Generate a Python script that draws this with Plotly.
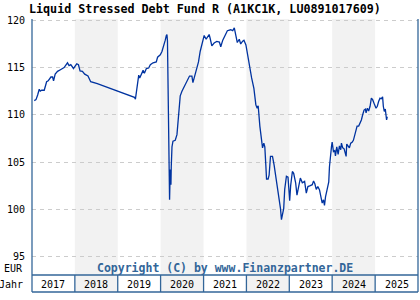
import datetime as dt
import plotly.graph_objects as go

title_text = "Liquid Stressed Debt Fund R (A1KC1K, LU0891017609)"
years = [2017, 2018, 2019, 2020, 2021, 2022, 2023, 2024, 2025]
y_ticks = [95, 100, 105, 110, 115, 120]

# decimal-year time stamps
t_years = [
    2017.053, 2017.093, 2017.132, 2017.169, 2017.193, 2017.225, 2017.285, 2017.341, 2017.378, 2017.441,
    2017.480, 2017.503, 2017.541, 2017.596, 2017.673, 2017.749, 2017.828, 2017.865, 2017.905, 2017.968,
    2017.998, 2018.044, 2018.084, 2018.121, 2018.176, 2018.230, 2018.306, 2018.329, 2018.369, 2018.524,
    2018.756, 2018.988, 2019.258, 2019.390, 2019.413, 2019.436, 2019.466, 2019.490, 2019.513, 2019.545,
    2019.592, 2019.622, 2019.668, 2019.722, 2019.761, 2019.824, 2019.900, 2019.930, 2019.993, 2020.032,
    2020.070, 2020.109, 2020.132, 2020.148, 2020.160, 2020.172, 2020.190, 2020.209, 2020.225, 2020.241,
    2020.248, 2020.265, 2020.288, 2020.341, 2020.381, 2020.418, 2020.457, 2020.497, 2020.550, 2020.613,
    2020.673, 2020.729, 2020.752, 2020.782, 2020.828, 2020.882, 2020.921, 2020.984, 2021.014, 2021.060,
    2021.091, 2021.130, 2021.153, 2021.193, 2021.246, 2021.309, 2021.369, 2021.401, 2021.448, 2021.501,
    2021.555, 2021.633, 2021.680, 2021.717, 2021.756, 2021.787, 2021.833, 2021.866, 2021.912, 2021.942,
    2021.988, 2022.019, 2022.065, 2022.121, 2022.174, 2022.220, 2022.251, 2022.274, 2022.313, 2022.353,
    2022.376, 2022.406, 2022.429, 2022.452, 2022.469, 2022.506, 2022.529, 2022.561, 2022.608, 2022.645,
    2022.684, 2022.738, 2022.761, 2022.794, 2022.817, 2022.840, 2022.870, 2022.893, 2022.933, 2022.970,
    2022.993, 2023.009, 2023.032, 2023.072, 2023.102, 2023.148, 2023.179, 2023.225, 2023.258, 2023.304,
    2023.357, 2023.397, 2023.434, 2023.490, 2023.536, 2023.566, 2023.596, 2023.629, 2023.666, 2023.705,
    2023.745, 2023.768, 2023.798, 2023.821, 2023.845, 2023.875, 2023.921, 2023.937, 2023.954, 2023.984,
    2024.000, 2024.030, 2024.060, 2024.077, 2024.107, 2024.139, 2024.169, 2024.200, 2024.216, 2024.246,
    2024.278, 2024.309, 2024.325, 2024.339, 2024.371, 2024.401, 2024.432, 2024.464, 2024.494, 2024.524,
    2024.557, 2024.580, 2024.617, 2024.650, 2024.680, 2024.710, 2024.742, 2024.773, 2024.789, 2024.819,
    2024.849, 2024.882, 2024.912, 2024.942, 2024.958, 2024.988, 2025.021, 2025.051, 2025.081, 2025.114,
    2025.144, 2025.174, 2025.191, 2025.213, 2025.237, 2025.253, 2025.267, 2025.283,
]
prices = [
    111.5, 111.6, 112.1, 112.7, 112.5, 112.6, 112.6, 113.5, 113.6, 114.0,
    114.0, 113.6, 114.3, 114.6, 114.8, 115.0, 115.5, 115.2, 115.3, 114.9,
    115.1, 115.4, 115.3, 114.65, 114.6, 114.3, 114.1, 113.8, 113.5, 113.3,
    112.9, 112.5, 112.1, 111.85, 111.65, 112.6, 113.9, 114.2, 113.9, 114.3,
    114.7, 114.4, 114.9, 114.95, 115.3, 115.5, 115.6, 116.1, 116.35, 116.7,
    117.2, 117.9, 118.36, 118.5, 117.8, 113.5, 106.5, 101.0, 104.2, 102.6,
    104.5, 106.6, 107.2, 107.3, 107.9, 109.6, 112.0, 112.5, 113.0, 113.7,
    114.1, 114.1, 113.4, 113.9, 114.6, 115.6, 116.7, 117.9, 118.4, 118.0,
    118.3, 118.5, 118.1, 117.3, 117.6, 117.76, 117.7, 117.2, 117.9, 118.5,
    118.9, 119.0, 118.9, 119.2, 118.1, 117.65, 118.0, 117.5, 117.8, 117.9,
    117.4, 116.5, 115.5, 113.9, 112.8, 111.05, 110.7, 110.95, 108.8, 107.0,
    106.5, 107.0, 106.6, 104.7, 103.2, 103.2, 103.6, 105.6, 105.6, 104.7,
    103.5, 102.1, 101.2, 100.1, 98.9, 99.65, 100.1, 102.1, 103.5, 103.4,
    101.35, 100.9, 102.5, 104.0, 103.8, 102.8, 101.5, 102.4, 103.3, 102.8,
    102.95, 101.7, 102.4, 102.5, 102.6, 103.0, 102.7, 102.1, 102.4, 102.05,
    101.0, 100.65, 101.0, 100.4, 101.3, 101.9, 102.9, 104.5, 105.65, 106.6,
    107.1, 106.1, 106.2, 105.65, 106.6, 105.8, 106.7, 106.3, 107.0, 106.5,
    106.4, 106.0, 105.6, 106.9, 106.7, 106.5, 107.0, 107.1, 107.3, 107.9,
    108.4, 108.8, 108.8, 109.1, 109.45, 110.0, 110.5, 110.6, 110.2, 110.7,
    110.4, 110.9, 111.76, 111.6, 111.3, 111.05, 110.7, 110.9, 111.4, 111.76,
    111.7, 111.9, 110.9, 110.35, 110.6, 110.2, 109.45, 109.8,
]


def to_date(t):
    y = int(t)
    a = dt.datetime(y, 1, 1)
    b = dt.datetime(y + 1, 1, 1)
    return a + (b - a) * (t - y)


dates = [to_date(t) for t in t_years]

MONO = "DejaVu Sans Mono"
FRAME = "#336699"
row_bottom = -17 / 256

fig = go.Figure()
fig.add_trace(go.Scatter(
    x=dates, y=prices, mode="lines",
    line=dict(color="#0033a0", width=1.3),
    hoverinfo="skip", showlegend=False,
))

shapes = []
for yr in years:
    if yr % 2 == 0:
        shapes.append(dict(type="rect", xref="x", yref="paper",
                           x0=f"{yr}-01-01", x1=f"{yr + 1}-01-01",
                           y0=row_bottom, y1=1, fillcolor="#f2f2f2",
                           line=dict(width=0), layer="below"))
# year row frame
shapes.append(dict(type="line", xref="paper", yref="paper", x0=0, x1=1, y0=0, y1=0,
                   line=dict(color=FRAME, width=1.3)))
shapes.append(dict(type="line", xref="paper", yref="paper", x0=0, x1=1, y0=row_bottom, y1=row_bottom,
                   line=dict(color=FRAME, width=1.3)))
for yr in years[1:]:
    shapes.append(dict(type="line", xref="x", yref="paper",
                       x0=f"{yr}-01-01", x1=f"{yr}-01-01", y0=row_bottom, y1=0,
                       line=dict(color=FRAME, width=1.3)))
shapes.append(dict(type="line", xref="paper", yref="paper", x0=0, x1=0, y0=row_bottom, y1=1,
                   line=dict(color=FRAME, width=1.3)))
shapes.append(dict(type="line", xref="paper", yref="paper", x0=1, x1=1, y0=row_bottom, y1=1,
                   line=dict(color=FRAME, width=1.3)))

annotations = []
for yr in years:
    annotations.append(dict(x=to_date(yr + 0.5), xref="x", y=-9 / 256, yref="paper",
                            text=str(yr), showarrow=False, xanchor="center", yanchor="middle",
                            font=dict(family=MONO, size=10, color="#000000")))
annotations.append(dict(x=0, xref="paper", y=-9 / 256, yref="paper", text="Jahr",
                        showarrow=False, xanchor="right", yanchor="middle", xshift=-7,
                        font=dict(family=MONO, size=10, color="#000000")))
annotations.append(dict(x=0, xref="paper", y=7 / 256, yref="paper", text="EUR",
                        showarrow=False, xanchor="right", yanchor="middle", xshift=-7,
                        font=dict(family=MONO, size=10, color="#000000")))
annotations.append(dict(x=0.5, xref="paper", y=7 / 256, yref="paper",
                        text="<b>Copyright (C) by www.Finanzpartner.DE</b>",
                        showarrow=False, xanchor="center", yanchor="middle",
                        font=dict(family=MONO, size=11.5, color=FRAME)))
annotations.append(dict(x=(205 - 32) / 386, xref="paper", y=1, yref="paper", yshift=10,
                        text="<b>" + title_text + "</b>",
                        showarrow=False, xanchor="center", yanchor="middle",
                        font=dict(family=MONO, size=11.7, color="#000000")))

fig.update_layout(
    width=420, height=300,
    margin=dict(l=32, r=2, t=19, b=25),
    paper_bgcolor="white", plot_bgcolor="white",
    shapes=shapes, annotations=annotations,
    xaxis=dict(range=["2017-01-01", "2026-01-01"], showgrid=False, showticklabels=False,
               zeroline=False, showline=False, ticks=""),
    yaxis=dict(range=[93.04, 120.14], tickvals=y_ticks, ticktext=[str(v) for v in y_ticks],
               showgrid=True, gridcolor="#cccccc", gridwidth=1, griddash="4px,4px",
               zeroline=False, showline=False, ticks="", ticklabelstandoff=6,
               tickfont=dict(family=MONO, size=10, color="#000000")),
)

fig.write_html("out.html")
